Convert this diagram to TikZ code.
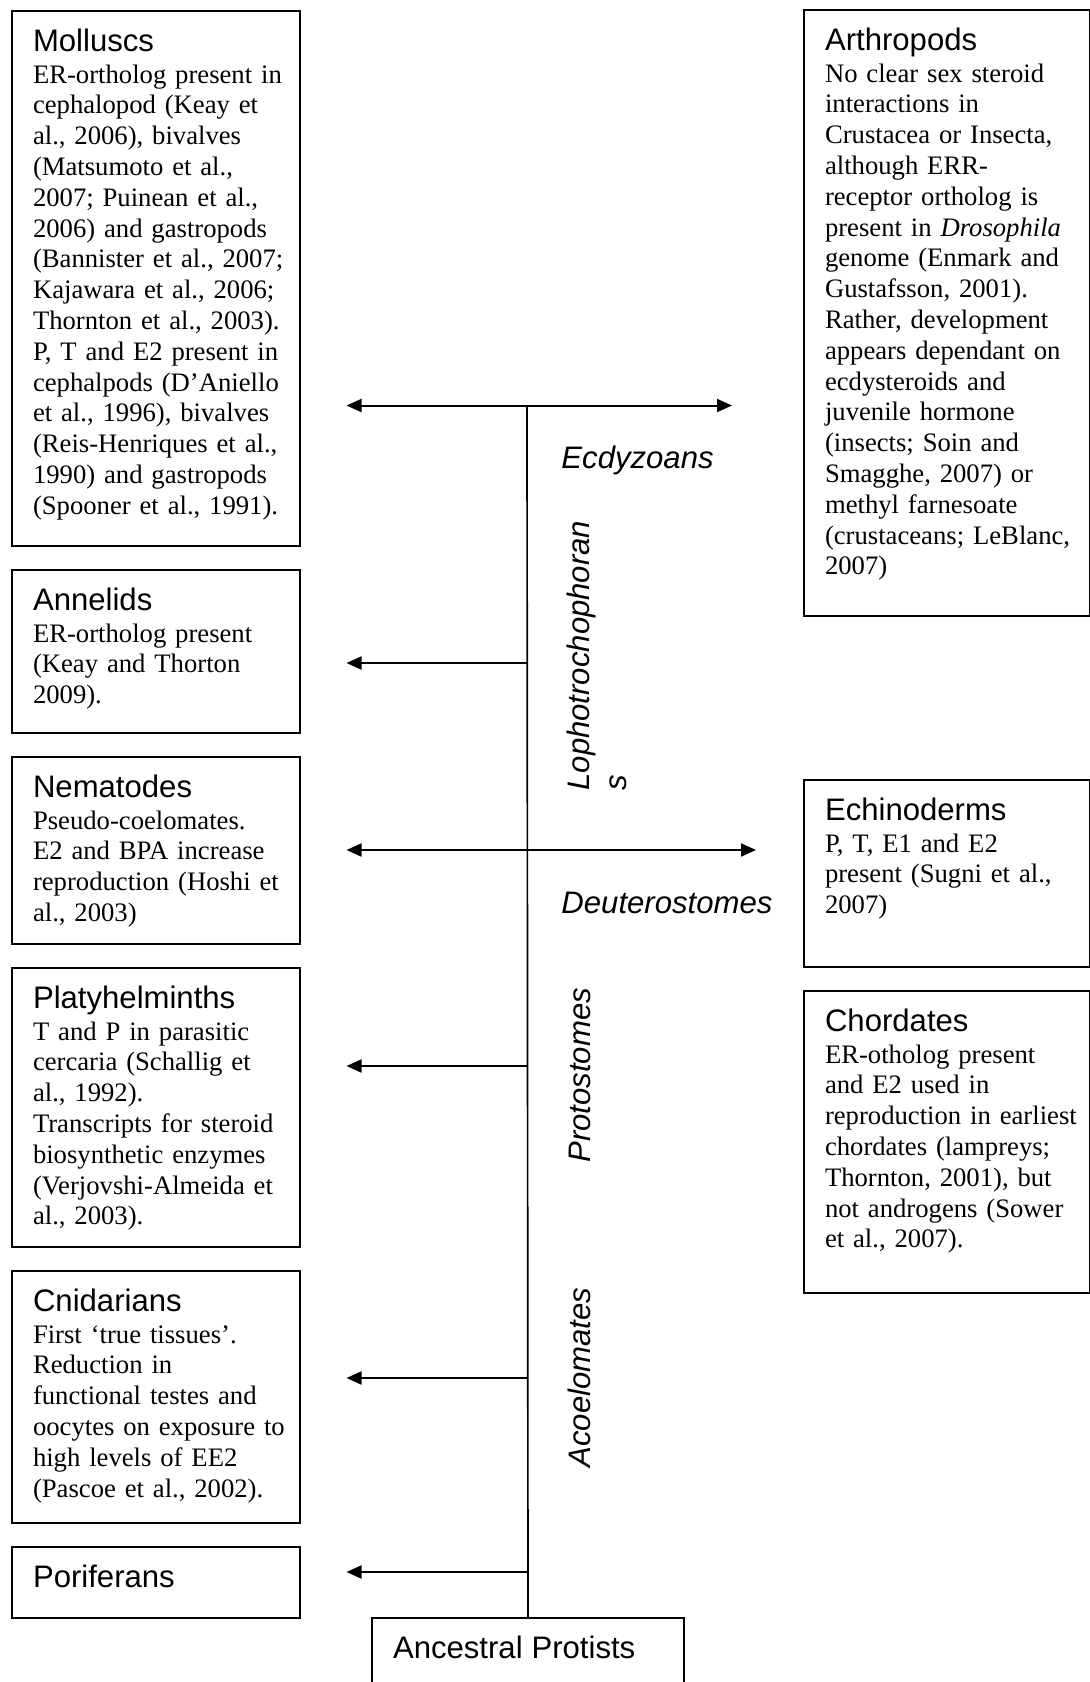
\documentclass[tikz,border=0pt]{standalone}
\usepackage{fontspec}
\setmainfont{Liberation Serif}
\setsansfont{Liberation Sans}
\usetikzlibrary{positioning, arrows.meta}

\newcommand{\taxonname}[1]{{\sffamily\fontsize{14}{16}\selectfont #1}}
\newcommand{\boxlines}[1]{\begin{tabular}[t]{@{}l@{}}#1\end{tabular}}

\begin{document}
\begin{tikzpicture}[
x=0.45pt, y=-0.45pt,
node distance=9.9pt,
taxon/.style={
draw,
line width=0.9pt,
anchor=north west,
inner xsep=9.45pt,
inner ysep=0pt,
text width=110.7pt,
text height=18pt,
font=\fontsize{12}{13.86}\selectfont
},
clade/.style={
inner sep=0pt,
anchor=base west,
font=\sffamily\itshape\fontsize{14}{16.5}\selectfont
},
arrow/.style={
-{Triangle[length=6.75pt, width=5.85pt]},
line width=0.9pt
}
]

\useasboundingbox (0,0) rectangle (1090,1682);
\clip (0,0) rectangle (1090,1682);

% left column
\node[taxon, text depth=222.75pt] (moll) at (11,10) {\boxlines{\taxonname{Molluscs}\\[0.55pt]
ER-ortholog present in\\
cephalopod (Keay et\\
al., 2006), bivalves\\
(Matsumoto et al.,\\
2007; Puinean et al.,\\
2006) and gastropods\\
(Bannister et al., 2007;\\
Kajawara et al., 2006;\\
Thornton et al., 2003).\\
P, T and E2 present in\\
cephalpods (D’Aniello\\
et al., 1996), bivalves\\
(Reis-Henriques et al.,\\
1990) and gastropods\\
(Spooner et al., 1991).}};
\node[taxon, text depth=55.35pt, below=of moll] (anne) {\boxlines{\taxonname{Annelids}\\[0.55pt]
ER-ortholog present\\
(Keay and Thorton\\
2009).}};
\node[taxon, text depth=66.15pt, below=of anne] (nema) {\boxlines{\taxonname{Nematodes}\\[0.55pt]
Pseudo-coelomates.\\
E2 and BPA increase\\
reproduction (Hoshi et\\
al., 2003)}};
\node[taxon, text depth=107.55pt, below=of nema] (platy) {\boxlines{\taxonname{Platyhelminths}\\[0.55pt]
T and P in parasitic\\
cercaria (Schallig et\\
al., 1992).\\
Transcripts for steroid\\
biosynthetic enzymes\\
(Verjovshi-Almeida et\\
al., 2003).}};
\node[taxon, text depth=95.4pt, below=of platy] (cnid) {\boxlines{\taxonname{Cnidarians}\\[0.55pt]
First ‘true tissues’.\\
Reduction in\\
functional testes and\\
oocytes on exposure to\\
high levels of EE2\\
(Pascoe et al., 2002).}};
\node[taxon, text depth=13.95pt, below=of cnid] (pori) {\boxlines{\taxonname{Poriferans}}};

% right column
\node[taxon, text width=109.8pt, text depth=254.7pt] (arth) at (803,9) {\boxlines{\taxonname{Arthropods}\\[0.55pt]
No clear sex steroid\\
interactions in\\
Crustacea or Insecta,\\
although ERR-\\
receptor ortholog is\\
present in \textit{Drosophila}\\
genome (Enmark and\\
Gustafsson, 2001).\\
Rather, development\\
appears dependant on\\
ecdysteroids and\\
juvenile hormone\\
(insects; Soin and\\
Smagghe, 2007) or\\
methyl farnesoate\\
(crustaceans; LeBlanc,\\
2007)}};
\node[taxon, text width=109.8pt, text depth=66.15pt] (echi) at (803,779) {\boxlines{\taxonname{Echinoderms}\\[0.55pt]
P, T, E1 and E2\\
present (Sugni et al.,\\
2007)}};
\node[taxon, text width=109.8pt, text depth=117.9pt, below=of echi] (chor) {\boxlines{\taxonname{Chordates}\\[0.55pt]
ER-otholog present\\
and E2 used in\\
reproduction in earliest\\
chordates (lampreys;\\
Thornton, 2001), but\\
not androgens (Sower\\
et al., 2007).}};

% root
\node[taxon, text width=121.5pt, text depth=30pt] (anc) at (371,1617) {\taxonname{Ancestral Protists}};

% clade labels
\node[clade] (ecdy) at (561,468) {Ecdyzoans};
\node[clade] (deut) at (561,913) {Deuterostomes};
\node[clade, rotate=90, anchor=north west, align=left] (lopho) at (567,791) {Lophotrochophoran\\s};
\node[clade, rotate=90] (prot) at (590,1163) {Protostomes};
\node[clade, rotate=90] (acoe) at (590,1468) {Acoelomates};

% branch points and arrow ends
\coordinate (jmoll) at (527,405.5);
\coordinate (janne) at (527,663);
\coordinate (jnema) at (527,850);
\coordinate (jplaty) at (527,1066);
\coordinate (jcnid) at (527,1378);
\coordinate (jpori) at (527,1572);
\coordinate (tmoll) at (346.5,405.5);
\coordinate (tarth) at (732,405.5);
\coordinate (tanne) at (346.5,663);
\coordinate (tnema) at (346.5,850);
\coordinate (techi) at (756,850);
\coordinate (tplaty) at (346.5,1066);
\coordinate (tcnid) at (346.5,1378);
\coordinate (tpori) at (346.5,1572);

\draw[line width=0.75pt] (jmoll) -- (anc.north);
\draw[arrow] (jmoll) -- (tmoll);
\draw[arrow] (jmoll) -- (tarth);
\draw[arrow] (janne) -- (tanne);
\draw[arrow] (jnema) -- (tnema);
\draw[arrow] (jnema) -- (techi);
\draw[arrow] (jplaty) -- (tplaty);
\draw[arrow] (jcnid) -- (tcnid);
\draw[arrow] (jpori) -- (tpori);

\end{tikzpicture}
\end{document}
